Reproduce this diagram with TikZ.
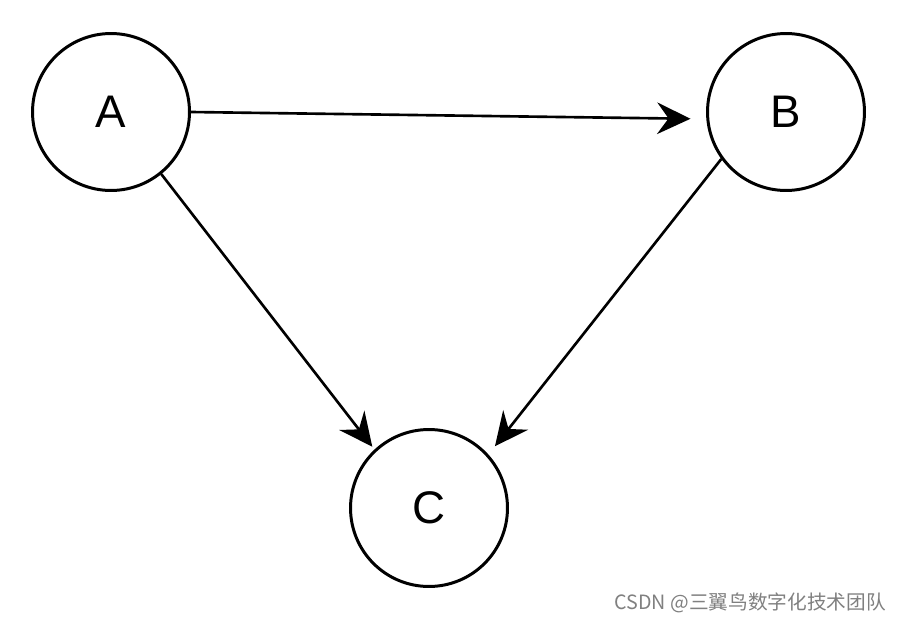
\documentclass[tikz,border=0pt]{standalone}
\usepackage{fontspec}
\setsansfont{Liberation Sans}
\newfontfamily\cjk{Noto Sans CJK SC}
\usetikzlibrary{arrows.meta}

\begin{document}
\begin{tikzpicture}[x=0.02cm,y=-0.02cm,font=\sffamily,>={Stealth[length=19pt,width=18pt,inset=6.5pt]},vertex/.style={draw,circle,line width=1.7pt,minimum size=3.14cm,inner sep=0pt,font=\sffamily\fontsize{26}{30}\selectfont},link/.style={line width=1.5pt,->}]
\useasboundingbox[fill=white] (0,0) rectangle (900,622);
\node[vertex] (a) at (111,112) {A};
\node[vertex] (b) at (786,112) {B};
\node[vertex] (c) at (429,508) {C};
\draw[link,shorten >=9pt] (a.0) -- (b.185);
\draw[link,shorten >=2pt] (a.309) -- (c.133);
\draw[link,shorten >=6pt] (b.216) -- (c.42);
\node[anchor=east,text=black!50,font=\cjk\fontsize{11.2}{13}\selectfont] (mark) at (892,603) {CSDN @三翼鸟数字化技术团队};
\end{tikzpicture}
\end{document}
